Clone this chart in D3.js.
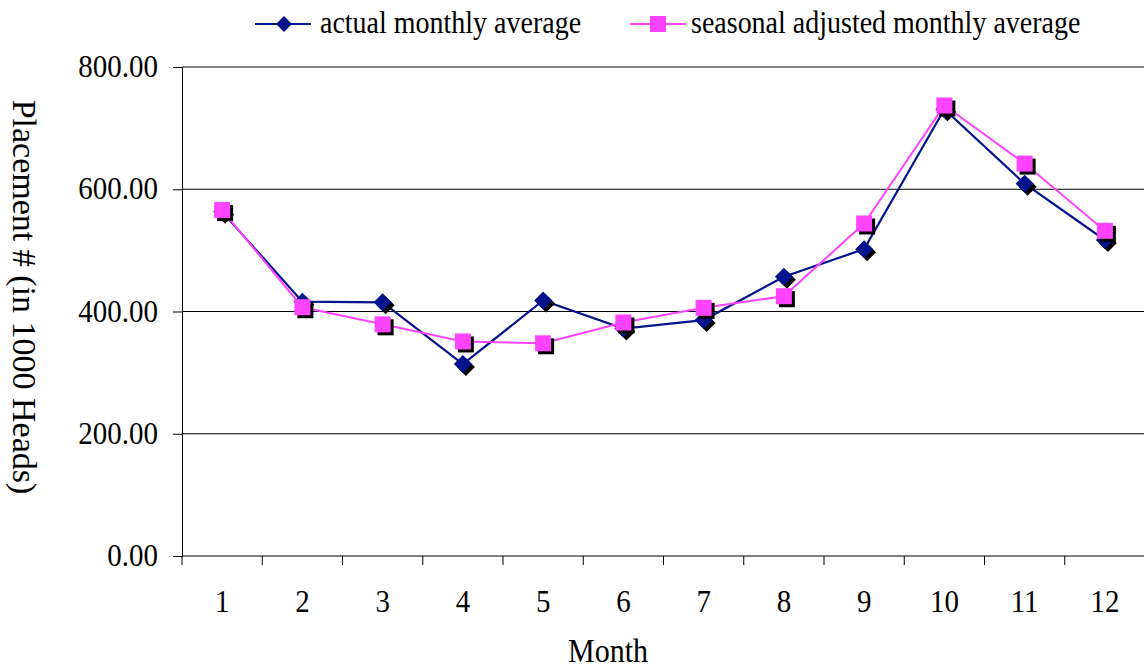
<!DOCTYPE html>
<html>
<head>
<meta charset="utf-8">
<script src="https://cdn.jsdelivr.net/npm/d3@7"></script>
<style>
  html, body { margin: 0; padding: 0; background: #fff; }
  svg { display: block; font-family: "Liberation Serif", "Times New Roman", serif; }
  svg text { font-family: "Liberation Serif", "Times New Roman", serif; fill: #000; }
</style>
</head>
<body>
<svg id="chart" width="1144" height="668"></svg>
<script>
// Monthly placements (in 1000 heads)
const months = [1, 2, 3, 4, 5, 6, 7, 8, 9, 10, 11, 12];
const actualAvg = [563, 416, 415, 314, 418, 372, 386, 457, 502, 731, 609, 517];
const seasonalAvg = [566, 407, 379, 351, 348, 382, 406, 425, 544, 737, 642, 532];
const yTicks = [0, 200, 400, 600, 800];
const seriesNames = ["actual monthly average", "seasonal adjusted monthly average"];

const navy = "#03148C";
const pink = "#FF44FF";

const svg = d3.select("#chart");
const plotLeft = 182, plotRight = 1145, plotTop = 67, plotBottom = 556;

const x = d3.scaleBand().domain(months).range([plotLeft, plotRight]);
const y = d3.scaleLinear().domain([0, 800]).range([plotBottom, plotTop]);
const cx = m => x(m) + x.bandwidth() / 2;

// horizontal gridlines
svg.append("g").selectAll("line")
  .data(yTicks.filter(t => t > 0))
  .join("line")
  .attr("x1", plotLeft).attr("x2", plotRight)
  .attr("y1", d => y(d)).attr("y2", d => y(d))
  .attr("stroke", "#000").attr("stroke-width", 1);

// y axis
const yAxis = svg.append("g")
  .attr("transform", `translate(${plotLeft},0)`)
  .call(d3.axisLeft(y).tickValues(yTicks).tickFormat(d3.format(".2f")).tickSize(9).tickPadding(15));
yAxis.select(".domain").attr("stroke", "#000");
yAxis.selectAll(".tick line").attr("stroke", "#000");
yAxis.selectAll("text")
  .attr("font-size", 29)
  .attr("dy", "0.3em")
  .attr("transform", "scale(1,1.1)");

// x axis: ticks at month boundaries, labels at month centers
const xg = svg.append("g").attr("transform", `translate(0,${plotBottom})`);
xg.append("line").attr("x1", plotLeft).attr("x2", plotRight).attr("stroke", "#000");
xg.selectAll("line.tick")
  .data(months.map(m => x(m)).concat([plotRight]))
  .join("line").attr("class", "tick")
  .attr("x1", d => d).attr("x2", d => d)
  .attr("y1", 0).attr("y2", 9).attr("stroke", "#000");
xg.selectAll("text")
  .data(months)
  .join("text")
  .attr("x", 0).attr("y", 0)
  .attr("text-anchor", "middle")
  .attr("font-size", 29)
  .attr("transform", d => `translate(${cx(d)},56) scale(1,1.1)`)
  .text(d => d);

// axis titles
svg.append("text")
  .attr("transform", "translate(608,662) scale(1,1.1)")
  .attr("text-anchor", "middle").attr("font-size", 30)
  .text("Month");
svg.append("text")
  .attr("transform", "translate(13,297) rotate(90)")
  .attr("text-anchor", "middle").attr("font-size", 34)
  .text("Placement # (in 1000 Heads)");

const line = d3.line().x((d, i) => cx(months[i])).y(d => y(d));
const diamond = s => `M0,${-s}L${s},0L0,${s}L${-s},0Z`;

// a series: line, then markers with a black drop shadow
function drawSeries(values, color, width, shape, shapeSize) {
  const g = svg.append("g");
  g.append("path").datum(values)
    .attr("d", line).attr("fill", "none")
    .attr("stroke", color).attr("stroke-width", width);
  const mk = g.selectAll("g.mk").data(values).join("g")
    .attr("class", "mk")
    .attr("transform", (d, i) => `translate(${cx(months[i])},${y(d)})`);
  if (shape === "diamond") {
    mk.append("path").attr("d", diamond(shapeSize)).attr("fill", "#000")
      .attr("transform", "translate(3,3)");
    mk.append("path").attr("d", diamond(shapeSize)).attr("fill", color);
  } else {
    mk.append("rect").attr("x", -shapeSize + 3).attr("y", -shapeSize + 3)
      .attr("width", shapeSize * 2).attr("height", shapeSize * 2).attr("fill", "#000");
    mk.append("rect").attr("x", -shapeSize).attr("y", -shapeSize)
      .attr("width", shapeSize * 2).attr("height", shapeSize * 2).attr("fill", color);
  }
}
drawSeries(actualAvg, navy, 2.2, "diamond", 9);
drawSeries(seasonalAvg, pink, 2, "square", 8);

// legend
const lg = svg.append("g");
lg.append("line").attr("x1", 255).attr("x2", 311).attr("y1", 24).attr("y2", 24)
  .attr("stroke", navy).attr("stroke-width", 2);
lg.append("path").attr("d", diamond(8)).attr("fill", navy)
  .attr("transform", "translate(284,24)");
lg.append("text").attr("transform", "translate(320,33) scale(1,1.1)")
  .attr("font-size", 28).text(seriesNames[0]);
lg.append("line").attr("x1", 630).attr("x2", 686).attr("y1", 24).attr("y2", 24)
  .attr("stroke", pink).attr("stroke-width", 2);
lg.append("rect").attr("x", 650).attr("y", 16).attr("width", 16).attr("height", 16)
  .attr("fill", pink);
lg.append("text").attr("transform", "translate(691,33) scale(1,1.1)")
  .attr("font-size", 28).text(seriesNames[1]);
</script>
</body>
</html>
